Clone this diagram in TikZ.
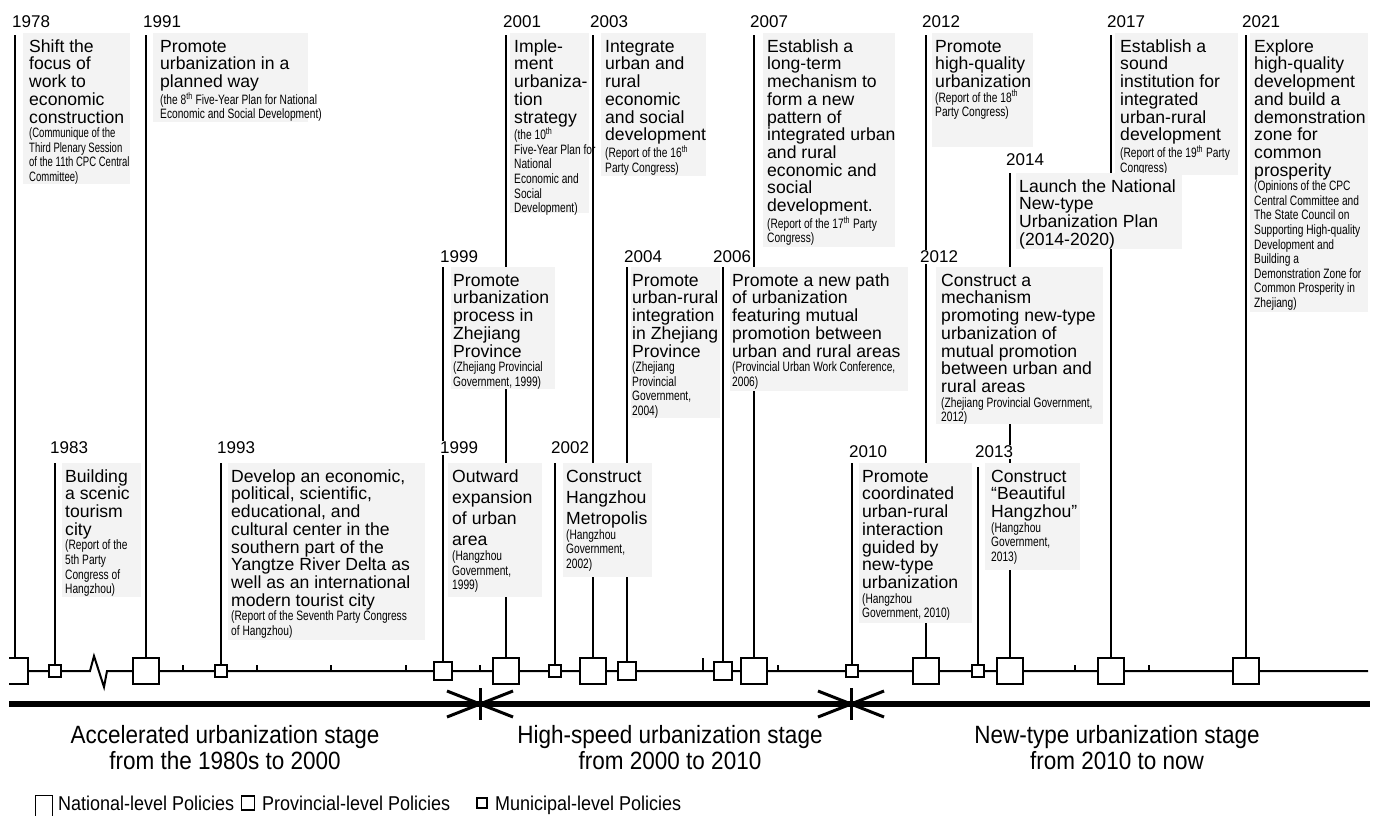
\documentclass[tikz,border=0pt]{standalone}
\usepackage{fontspec}
\setmainfont{Liberation Sans}
\newfontfamily\narrowfont[FakeStretch=0.75]{Liberation Sans}
\newfontfamily\narrowerfont[FakeStretch=0.70]{Liberation Sans}
\newfontfamily\condfont[FakeStretch=0.9]{Liberation Sans}
\usepackage{xcolor}
\usepackage{tikz}
\usetikzlibrary{positioning}

\definecolor{boxbg}{HTML}{F3F3F3}
\newcommand{\evfont}{\fontsize{17.6}{17.7}\selectfont}
\newcommand{\evfontwide}{\fontsize{17.6}{21.2}\selectfont}
\newcommand{\srcfont}{\narrowfont\fontsize{13.6}{14.6}\selectfont}
\newcommand{\srcfontn}{\narrowerfont\fontsize{13.6}{14.6}\selectfont}
\newcommand{\yrfont}{\fontsize{17}{17}\selectfont}
\newcommand{\stagefont}{\condfont\fontsize{25}{26}\selectfont}
\newcommand{\legfont}{\condfont\fontsize{20}{20}\selectfont}

\tikzset{
  natbox/.style={draw, line width=1.6pt, fill=white, inner sep=0pt, minimum width=25.5pt, minimum height=26pt},
  provbox/.style={draw, line width=1.6pt, fill=white, inner sep=0pt, minimum width=17.5pt, minimum height=18.5pt},
  munbox/.style={draw, line width=1.6pt, fill=white, inner sep=0pt, minimum size=12.5pt},
  stem/.style={line width=1.8pt},
  tline/.style={line width=2pt},
  evtext/.style={anchor=north west, inner sep=0pt, text width=#1, align=flush left, text height=13pt, font=\evfont},
  yearlbl/.style={anchor=west, fill=white, inner sep=1pt, font=\yrfont},
  stageln/.style={line width=6pt},
  stagebar/.style={line width=3pt},
  stagehead/.style={line width=3pt},
  stagetxt/.style={align=center, font=\stagefont},
  legbox/.style={draw, line width=1.4pt, inner sep=0pt},
  legtxt/.style={anchor=base west, inner sep=0pt, font=\legfont}
}

\begin{document}
\begin{tikzpicture}[x=1pt, y=-1pt]
    \useasboundingbox (0,0) rectangle (1380,815);
    \clip (9,0) rectangle (1380,815);

    % policy markers on the time axis
    \node[natbox] (m78) at (15,671) {};
    \node[munbox] (m83) at (55,671) {};
    \node[natbox] (m91) at (146,671) {};
    \node[munbox] (m93) at (221,671) {};
    \node[provbox] (m99) at (443,671) {};
    \node[natbox] (m01) at (506,671) {};
    \node[munbox] (m02) at (555,671) {};
    \node[natbox] (m03) at (593,671) {};
    \node[provbox] (m04) at (627,671) {};
    \node[provbox] (m06) at (723,671) {};
    \node[natbox] (m07) at (754,671) {};
    \node[munbox] (m10) at (852,671) {};
    \node[natbox] (m12) at (926,671) {};
    \node[munbox] (m13) at (978,671) {};
    \node[natbox] (m14) at (1010,671) {};
    \node[natbox] (m17) at (1111,671) {};
    \node[natbox] (m21) at (1246,671) {};

    % time axis with break
    \coordinate (zz1) at (90,671);
    \coordinate (zz2) at (94,656);
    \coordinate (zz3) at (104,687);
    \coordinate (zz4) at (107,671);
    \coordinate (tlR) at (1368,671);
    \draw[tline] (m78) -- (m83) -- (zz1) -- (zz2) -- (zz3) -- (zz4) -- (m91) -- (m93) -- (m99) -- (m01)
        -- (m02) -- (m03) -- (m04) -- (m06) -- (m07) -- (m10) -- (m12) -- (m13) -- (m14) -- (m17) -- (m21) -- (tlR);
    \foreach \x in {183,257,331,406,480,778,1075,1149}
        \draw[tline] (\x,671) -- (\x,665);
    \draw[tline] (703,671) -- (703,658);

    % stems
    \foreach \n/\x/\y in {78/15/35, 83/55/463, 91/146/35, 93/221/463, 99/443/267, 01/506/35,
        02/555/463, 03/593/35, 04/627/267, 06/723/267, 07/754/35, 10/852/463, 12/926/35,
        13/978/467, 14/1010/173, 17/1111/35, 21/1246/35}
        \coordinate (s\n) at (\x,\y);
    \foreach \n in {78,83,91,93,99,01,02,03,04,06,07,10,12,13,14,17,21}
        \draw[stem] (s\n) -- (m\n);

    % national level
    \fill[boxbg] (23,33) rectangle (130,184);
    \node[evtext=120] (t78) at (29,39) {Shift the\\focus of\\work to\\economic\\construction\par
        \srcfontn(Communique of the\\Third Plenary Session\\of the 11th CPC Central\\Committee)\par};
    \fill[boxbg] (153,33) rectangle (308,122);
    \node[evtext=170] (t91) at (160,39) {Promote\\urbanization in a\\planned way\par
        \srcfont(the 8\textsuperscript{th} Five-Year Plan for National\\Economic and Social Development)\par};
    \fill[boxbg] (510,33) rectangle (589,213);
    \node[evtext=95] (t01) at (514,39) {Imple-\\ment\\urbaniza-\\tion\\strategy\par
        \srcfont(the 10\textsuperscript{th}\\Five-Year Plan for\\National\\Economic and\\Social\\Development)\par};
    \fill[boxbg] (601,33) rectangle (706,176);
    \node[evtext=120] (t03) at (605,39) {Integrate\\urban and\\rural\\economic\\and social\\development\par
        \srcfont(Report of the 16\textsuperscript{th}\\Party Congress)\par};
    \fill[boxbg] (763,33) rectangle (895,247);
    \node[evtext=145] (t07) at (767,39) {Establish a\\long-term\\mechanism to\\form a new\\pattern of\\integrated urban\\and rural\\economic and\\social\\development.\par
        \srcfont(Report of the 17\textsuperscript{th} Party\\Congress)\par};
    \fill[boxbg] (932,33) rectangle (1033,147);
    \node[evtext=115] (t12a) at (935,39) {Promote\\high-quality\\urbanization\par
        \srcfont(Report of the 18\textsuperscript{th}\\Party Congress)\par};
    \fill[boxbg] (1115,33) rectangle (1238,175);
    \node[evtext=135] (t17) at (1120,39) {Establish a\\sound\\institution for\\integrated\\urban-rural\\development\par
        \srcfont(Report of the 19\textsuperscript{th} Party\\Congress)\par};
    \fill[boxbg] (1250,33) rectangle (1368,312);
    \node[evtext=130] (t21) at (1254,39) {Explore\\high-quality\\development\\and build a\\demonstration\\zone for\\common\\prosperity\par
        \srcfont(Opinions of the CPC\\Central Committee and\\The State Council on\\Supporting High-quality\\Development and\\Building a\\Demonstration Zone for\\Common Prosperity in\\Zhejiang)\par};
    \fill[boxbg] (1016,173) rectangle (1182,249);
    \node[evtext=180] (t14) at (1019,179) {Launch the National\\New-type\\Urbanization Plan\\(2014-2020)\par};

    % provincial level
    \fill[boxbg] (451,267) rectangle (555,389);
    \node[evtext=115] (t99p) at (453,273) {Promote\\urbanization\\process in\\Zhejiang\\Province\par
        \srcfont(Zhejiang Provincial\\Government, 1999)\par};
    \fill[boxbg] (631,267) rectangle (720,418);
    \node[evtext=100] (t04) at (632,273) {Promote\\urban-rural\\integration\\in Zhejiang\\Province\par
        \srcfont(Zhejiang\\Provincial\\Government,\\2004)\par};
    \fill[boxbg] (730,267) rectangle (908,391);
    \node[evtext=190] (t06) at (732,273) {Promote a new path\\of urbanization\\featuring mutual\\promotion between\\urban and rural areas\par
        \srcfont(Provincial Urban Work Conference,\\2006)\par};
    \fill[boxbg] (936,267) rectangle (1103,424);
    \node[evtext=180] (t12b) at (941,273) {Construct a\\mechanism\\promoting new-type\\urbanization of\\mutual promotion\\between urban and\\rural areas\par
        \srcfont(Zhejiang Provincial Government,\\2012)\par};

    % municipal level
    \fill[boxbg] (62,463) rectangle (141,597);
    \node[evtext=95] (t83) at (65,469) {Building\\a scenic\\tourism\\city\par
        \srcfont(Report of the\\5th Party\\Congress of\\Hangzhou)\par};
    \fill[boxbg] (228,463) rectangle (425,640);
    \node[evtext=210] (t93) at (231,469) {Develop an economic,\\political, scientific,\\educational, and\\cultural center in the\\southern part of the\\Yangtze River Delta as\\well as an international\\modern tourist city\par
        \srcfont(Report of the Seventh Party Congress\\of Hangzhou)\par};
    \fill[boxbg] (448,463) rectangle (542,597);
    \node[evtext=105, font=\evfontwide] (t99m) at (452,469) {Outward\\expansion\\of urban\\area\par
        \srcfont(Hangzhou\\Government,\\1999)\par};
    \fill[boxbg] (563,463) rectangle (652,577);
    \node[evtext=100, font=\evfontwide] (t02) at (566,469) {Construct\\Hangzhou\\Metropolis\par
        \srcfont(Hangzhou\\Government,\\2002)\par};
    \fill[boxbg] (859,463) rectangle (972,623);
    \node[evtext=125] (t10) at (862,469) {Promote\\coordinated\\urban-rural\\interaction\\guided by\\new-type\\urbanization\par
        \srcfont(Hangzhou\\Government, 2010)\par};
    \fill[boxbg] (985,463) rectangle (1080,570);
    \node[evtext=105] (t13) at (991,469) {Construct\\“Beautiful\\Hangzhou”\par
        \srcfont(Hangzhou\\Government,\\2013)\par};

    % years
    \node[yearlbl] (y78) at (11,22) {1978};
    \node[yearlbl] (y91) at (142,22) {1991};
    \node[yearlbl] (y01) at (502,22) {2001};
    \node[yearlbl] (y03) at (589,22) {2003};
    \node[yearlbl] (y07) at (749,22) {2007};
    \node[yearlbl] (y12a) at (921,22) {2012};
    \node[yearlbl] (y17) at (1106,22) {2017};
    \node[yearlbl] (y21) at (1241,22) {2021};
    \node[yearlbl] (y14) at (1005,160) {2014};
    \node[yearlbl] (y99p) at (439,257) {1999};
    \node[yearlbl] (y04) at (623,257) {2004};
    \node[yearlbl] (y06) at (712,257) {2006};
    \node[yearlbl] (y12b) at (919,257) {2012};
    \node[yearlbl] (y83) at (49,448) {1983};
    \node[yearlbl] (y93) at (216,448) {1993};
    \node[yearlbl] (y99m) at (439,448) {1999};
    \node[yearlbl] (y02) at (550,448) {2002};
    \node[yearlbl] (y10) at (848,452) {2010};
    \node[yearlbl] (y13) at (974,452) {2013};

    % stages
    \coordinate (sL) at (9,704);
    \coordinate (j1) at (480,704);
    \coordinate (j2) at (851,704);
    \coordinate (sR) at (1370,704);
    \draw[stageln] (sL) -- (j1) -- (j2) -- (sR);
    \foreach \j in {j1,j2} {
        \draw[stagebar] ([yshift=16pt]\j) -- ([yshift=-16pt]\j);
        \draw[stagehead] ([shift={(-33,-13)}]\j) -- (\j) -- ([shift={(-33,13)}]\j);
        \draw[stagehead] ([shift={(33,-13)}]\j) -- (\j) -- ([shift={(33,13)}]\j);
    }
    \node[stagetxt] (st1) at (225,748) {Accelerated urbanization stage\\from the 1980s to 2000};
    \node[stagetxt] (st2) at (670,748) {High-speed urbanization stage\\from 2000 to 2010};
    \node[stagetxt] (st3) at (1117,748) {New-type urbanization stage\\from 2010 to now};

    % legend
    \node[legbox, minimum width=17pt, minimum height=30pt, anchor=north west] (lgn) at (35,795) {};
    \node[legtxt] (lgnt) at (58,810) {National-level Policies};
    \node[legbox, minimum width=13pt, minimum height=14pt] (lgp) at (248,803) {};
    \node[legtxt] (lgpt) at (262,810) {Provincial-level Policies};
    \node[legbox, minimum width=10pt, minimum height=10pt] (lgm) at (482,803) {};
    \node[legtxt] (lgmt) at (495,810) {Municipal-level Policies};
\end{tikzpicture}
\end{document}
